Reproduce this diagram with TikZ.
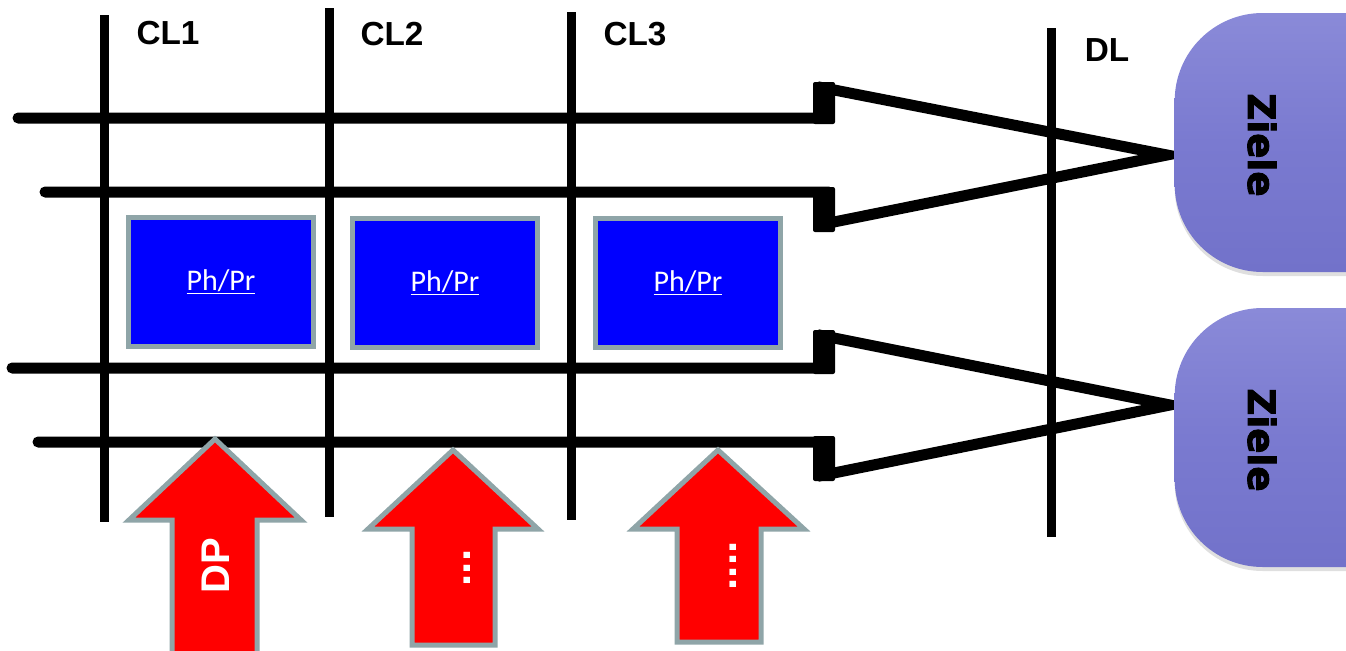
\documentclass[tikz,border=0pt]{standalone}
\usepackage{fontspec}
\setmainfont{Liberation Sans}
\newfontfamily\calib{Carlito}
\newfontfamily\heavy[BoldFeatures={FakeBold=2.5}]{DejaVu Sans}
\usetikzlibrary{shadows}
\definecolor{zgray}{HTML}{8FA5A8}
\definecolor{zblue}{HTML}{0000FF}
\definecolor{zred}{HTML}{FF0000}
\definecolor{zvio}{HTML}{7A7AD0}
\definecolor{zviotop}{HTML}{8A8AD8}
\definecolor{zviobot}{HTML}{7272CA}
\begin{document}
\begin{tikzpicture}[x=0.75pt,y=-0.75pt,
  vline/.style={line width=6.75pt,black},
  hline/.style={line width=8.25pt,black,line cap=round,line join=miter},
  stepblock/.style={fill=black,rounded corners=1.5pt},
  phbox/.style={draw=zgray,line width=3.75pt,fill=zblue,inner sep=0pt,
    minimum width=138.75pt,minimum height=96.75pt,text=white,
    font=\calib\fontsize{22.5}{26}\selectfont},
  redarrow/.style={draw=zgray,line width=3.75pt,fill=zred,line join=miter},
  arrowtext/.style={text=white,font=\bfseries\fontsize{30}{34}\selectfont,rotate=90,inner sep=0pt},
  dottext/.style={text=white,font=\bfseries\fontsize{33}{34}\selectfont,rotate=90,inner sep=0pt},
  cllabel/.style={font=\bfseries\fontsize{25}{28}\selectfont,inner sep=0pt},
  ziele/.style={rounded corners=66pt,minimum width=200pt,minimum height=194.25pt,
    top color=zviotop,bottom color=zviobot,middle color=zvio,inner sep=0pt,
    drop shadow={shadow xshift=0pt,shadow yshift=-3pt,opacity=0.25}},
  zieletext/.style={font=\heavy\bfseries\fontsize{28}{30}\selectfont,rotate=-90,inner sep=0pt}
]
\useasboundingbox (0,0) rectangle (1346,650);
\clip (0,0) rectangle (1346,650);

% vertical lines
\coordinate (c1t) at (104,15);  \coordinate (c1b) at (104,522);
\coordinate (c2t) at (329,8);   \coordinate (c2b) at (329,517);
\coordinate (c3t) at (571,12);  \coordinate (c3b) at (571,520);
\coordinate (dlt) at (1051,28); \coordinate (dlb) at (1051,537);
\draw[vline] (c1t) -- (c1b);
\draw[vline] (c2t) -- (c2b);
\draw[vline] (c3t) -- (c3b);
\draw[vline] (dlt) -- (dlb);

% arrow outlines
\coordinate (t1) at (1167,155);
\coordinate (t2) at (1170,405);
\coordinate (a1s) at (18,118);
\coordinate (a1e) at (45,192);
\coordinate (a2s) at (12,368);
\coordinate (a2e) at (38,442);
\draw[hline] (a1s) -- (824,118) -- (824,88) -- (t1) -- (824,224) -- (824,192) -- (a1e);
\draw[hline] (a2s) -- (824,368) -- (824,336) -- (t2) -- (824,475) -- (824,442) -- (a2e);
\fill[stepblock] (813,82) rectangle (835,124);
\fill[stepblock] (813,187) rectangle (835,232);
\fill[stepblock] (813,330) rectangle (835,374);
\fill[stepblock] (813,436) rectangle (835,481);

% Ziele targets, over the arrow tips
\node[ziele] (z1) at (1308,142.5) {};
\node[ziele] (z2) at (1308,437.5) {};
\node[zieletext] (zt1) at (1262,145) {Ziele};
\node[zieletext] (zt2) at (1262,440) {Ziele};

% blue boxes
\node[phbox] (b1) at (221,282) {\underline{Ph/Pr}};
\node[phbox] (b2) at (445,283) {\underline{Ph/Pr}};
\node[phbox] (b3) at (688,283) {\underline{Ph/Pr}};

% red arrows
\draw[redarrow] (215,439) -- (301,520) -- (257,520) -- (257,660) -- (172,660) -- (172,520) -- (129,520) -- cycle;
\draw[redarrow] (453,450) -- (538,529) -- (495,529) -- (495,645) -- (412,645) -- (412,529) -- (368,529) -- cycle;
\draw[redarrow] (718,450) -- (804,529) -- (761,529) -- (761,642) -- (677,642) -- (677,529) -- (633,529) -- cycle;
\node[arrowtext] (dp) at (216,566) {DP};
\node[dottext] (d2) at (467,568) {...};
\node[dottext] (d3) at (733,566) {....};

% labels
\node[cllabel] (l1) at (168,33) {CL1};
\node[cllabel] (l2) at (392,34) {CL2};
\node[cllabel] (l3) at (635,34) {CL3};
\node[cllabel] (l4) at (1107,50) {DL};
\end{tikzpicture}
\end{document}
